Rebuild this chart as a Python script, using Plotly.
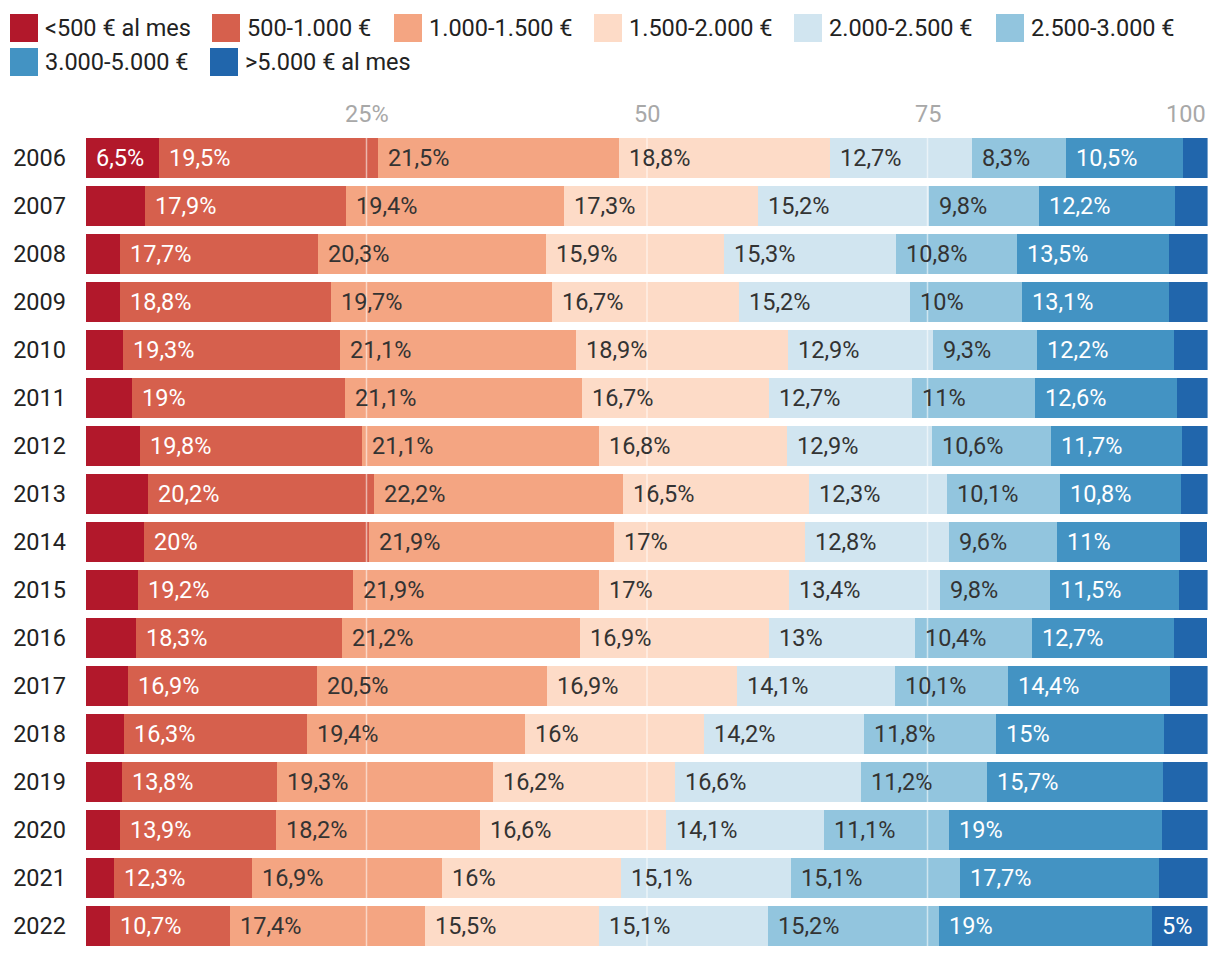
import plotly.graph_objects as go

years = [str(y) for y in range(2006, 2023)]
categories = ["<500 € al mes", "500-1.000 €", "1.000-1.500 €", "1.500-2.000 €",
              "2.000-2.500 €", "2.500-3.000 €", "3.000-5.000 €", ">5.000 € al mes"]

s_lt500 = [6.5, 5.3, 3.0, 3.0, 3.3, 4.1, 4.8, 5.5, 5.2, 4.6, 4.5, 3.7, 3.4, 3.2, 3.0, 2.5, 2.1]
s_500_1000 = [19.5, 17.9, 17.7, 18.8, 19.3, 19.0, 19.8, 20.2, 20.0, 19.2, 18.3, 16.9, 16.3, 13.8, 13.9, 12.3, 10.7]
s_1000_1500 = [21.5, 19.4, 20.3, 19.7, 21.1, 21.1, 21.1, 22.2, 21.9, 21.9, 21.2, 20.5, 19.4, 19.3, 18.2, 16.9, 17.4]
s_1500_2000 = [18.8, 17.3, 15.9, 16.7, 18.9, 16.7, 16.8, 16.5, 17.0, 17.0, 16.9, 16.9, 16.0, 16.2, 16.6, 16.0, 15.5]
s_2000_2500 = [12.7, 15.2, 15.3, 15.2, 12.9, 12.7, 12.9, 12.3, 12.8, 13.4, 13.0, 14.1, 14.2, 16.6, 14.1, 15.1, 15.1]
s_2500_3000 = [8.3, 9.8, 10.8, 10.0, 9.3, 11.0, 10.6, 10.1, 9.6, 9.8, 10.4, 10.1, 11.8, 11.2, 11.1, 15.1, 15.2]
s_3000_5000 = [10.5, 12.2, 13.5, 13.1, 12.2, 12.6, 11.7, 10.8, 11.0, 11.5, 12.7, 14.4, 15.0, 15.7, 19.0, 17.7, 19.0]
s_gt5000 = [2.2, 2.9, 3.5, 3.5, 3.0, 2.8, 2.3, 2.4, 2.4, 2.6, 2.9, 3.4, 3.9, 4.0, 4.1, 4.4, 5.0]

series = [s_lt500, s_500_1000, s_1000_1500, s_1500_2000,
          s_2000_2500, s_2500_3000, s_3000_5000, s_gt5000]

tick_vals = [25, 50, 75, 100]
tick_text = ["25%", "50", "75", "100"]

colors = ["#b2182b", "#d6604d", "#f4a582", "#fddbc7",
          "#d1e5f0", "#92c5de", "#4393c3", "#2166ac"]
text_colors = ["#ffffff", "#ffffff", "#333333", "#333333",
               "#333333", "#333333", "#ffffff", "#ffffff"]

FONT = "Roboto"
FS = 23.5
LEG_FS = 23.5
OFF = 8  # page body margin
W, H = 1220 - OFF, 958 - OFF
ML, MR, MT, MB = 86 - OFF, 12, 134 - OFF, 8
px_per_unit = (W - ML - MR) / 100.0


def fmt(v):
    s = f"{v:.1f}".rstrip("0").rstrip(".")
    return s.replace(".", ",") + "%"


adv = {",": 0.197, "%": 0.732}


def text_width(s):
    return sum(adv.get(c, 0.562) for c in s) * FS


fig = go.Figure()
annotations = []
starts = [0.0] * len(years)
for i, (name, vals) in enumerate(zip(categories, series)):
    fig.add_trace(go.Bar(
        y=years, x=vals, name=name, orientation="h",
        marker=dict(color=colors[i], line=dict(width=0)),
        hoverinfo="skip", showlegend=False,
    ))
    for j, v in enumerate(vals):
        lab = fmt(v)
        if v * px_per_unit >= text_width(lab) + 18:
            annotations.append(dict(
                x=starts[j], y=j, xref="x", yref="y",
                text=lab, showarrow=False, xanchor="left", yanchor="middle",
                xshift=8, font=dict(family=FONT, size=FS, color=text_colors[i]),
            ))
        starts[j] += v

# top tick labels
for tv, tt in zip(tick_vals, tick_text):
    annotations.append(dict(
        x=tv, y=1, xref="x", yref="paper", text=tt, showarrow=False,
        xanchor="right" if tv == 100 else "center", yanchor="middle", yshift=20,
        font=dict(family=FONT, size=FS, color="#a8a8a8"),
    ))

shapes = []
for tv in tick_vals:
    shapes.append(dict(type="line", xref="x", yref="paper", x0=tv, x1=tv, y0=0, y1=1,
                       line=dict(color="rgba(255,255,255,0.55)", width=1.5), layer="above"))

# custom legend (screen pixel positions)
legend_x = [10, 212, 394, 594, 794, 996, 10, 210]
legend_row = [0, 0, 0, 0, 0, 0, 1, 1]
row_top = [14, 48]
SW = 28
plot_left_px = ML + OFF
plot_top_px = MT + OFF
for i, name in enumerate(categories):
    x0 = legend_x[i] - plot_left_px
    top = row_top[legend_row[i]]
    shapes.append(dict(type="rect", xref="paper", yref="paper",
                       xsizemode="pixel", ysizemode="pixel", xanchor=0, yanchor=1,
                       x0=x0, x1=x0 + SW, y0=plot_top_px - top - SW, y1=plot_top_px - top,
                       fillcolor=colors[i], line=dict(width=0), layer="above"))
    annotations.append(dict(
        x=0, y=1, xref="paper", yref="paper", text=name, showarrow=False,
        xanchor="left", yanchor="middle", xshift=x0 + SW + 5, yshift=plot_top_px - top - SW / 2,
        font=dict(family=FONT, size=LEG_FS, color="#222222"),
    ))

fig.update_layout(
    barmode="stack", bargap=0.167,
    width=W, height=H,
    margin=dict(l=ML, r=MR, t=MT, b=MB, autoexpand=False),
    paper_bgcolor="white", plot_bgcolor="white",
    font=dict(family=FONT, size=FS, color="#222222"),
    xaxis=dict(range=[0, 100], showgrid=False, zeroline=False, showticklabels=False,
               fixedrange=True, side="top", automargin=False),
    yaxis=dict(autorange="reversed", type="category", showgrid=False, zeroline=False,
               ticks="", ticklabelstandoff=19, automargin=False,
               tickfont=dict(family=FONT, size=FS, color="#222222")),
    annotations=annotations, shapes=shapes,
)

fig.write_html("out.html")
